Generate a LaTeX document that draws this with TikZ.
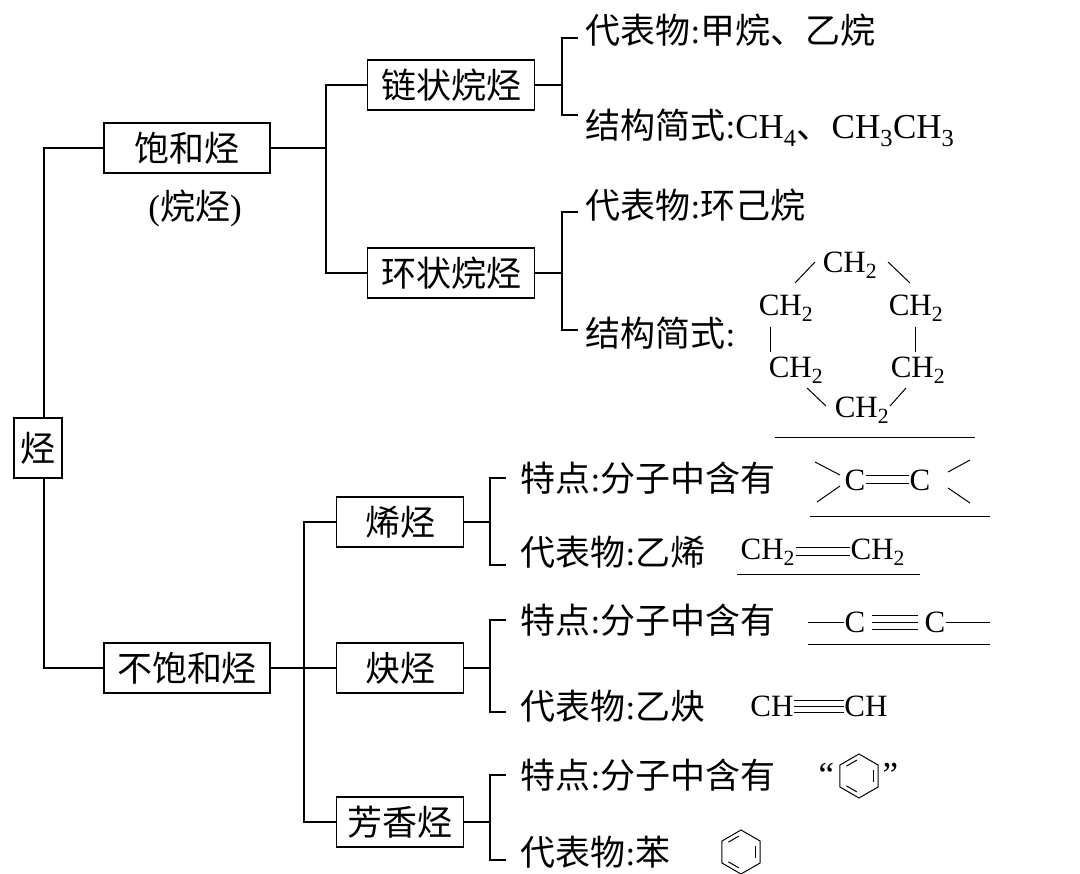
\documentclass[tikz,border=0pt]{standalone}
\usepackage{fontspec}
\setmainfont{Liberation Serif}
\newfontfamily\cjk{Noto Sans CJK SC}
\begin{document}
\begin{tikzpicture}[x=1pt,y=-1pt,line width=1.3pt,
 box/.style={draw,inner sep=0pt,minimum height=50pt,font=\fontsize{35}{37}\selectfont\cjk},
 t/.style={anchor=west,inner sep=0pt,font=\fontsize{35}{37}\selectfont},
 ch/.style={inner sep=0pt,font=\fontsize{31}{33}\selectfont}]
\useasboundingbox (0,0) rectangle (1080,874);
\newcommand\zh[1]{{\cjk #1}}
\node[box,minimum width=48pt,minimum height=60pt] (root) at (38,448) {烃};
\node[box,minimum width=166pt] (bh) at (187,148) {饱和烃};
\node[t,anchor=center] (bhn) at (195,208) {(\zh{烷烃})};
\node[box,minimum width=166pt] (bbh) at (187,668) {不饱和烃};
\draw (root.north -| 44,0) -- (44,148) -- (bh.west);
\draw (root.south -| 44,0) -- (44,668) -- (bbh.west);
\node[box,minimum width=167pt] (lz) at (451,85) {链状烷烃};
\node[box,minimum width=167pt] (hz) at (451,273) {环状烷烃};
\coordinate (j1) at (326,148);
\draw (bh.east) -- (j1);
\draw (lz.west) -- (326,85) -- (326,273) -- (hz.west);
\coordinate (b1) at (562,85);
\draw (lz.east) -- (b1);
\draw (578,38) -- (562,38) -- (562,115) -- (578,115);
\node[t] (a1) at (585,30) {\zh{代表物}:\zh{甲烷、乙烷}};
\node[t] (a2) at (585,128) {\zh{结构简式}:CH\textsubscript{4}\zh{、}CH\textsubscript{3}CH\textsubscript{3}};
\draw (hz.east) -- (562,273);
\draw (578,212) -- (562,212) -- (562,330) -- (578,330);
\node[t] (a3) at (585,205) {\zh{代表物}:\zh{环己烷}};
\node[t] (a4) at (585,333) {\zh{结构简式}:};
\node[ch] (c1) at (850,265) {CH\textsubscript{2}};
\node[ch] (c2) at (786,308) {CH\textsubscript{2}};
\node[ch] (c3) at (916,308) {CH\textsubscript{2}};
\node[ch] (c4) at (796,370) {CH\textsubscript{2}};
\node[ch] (c5) at (918,370) {CH\textsubscript{2}};
\node[ch] (c6) at (862,410) {CH\textsubscript{2}};
\draw[line width=1pt] (795,283) -- (815,262);
\draw[line width=1pt] (888,262) -- (910,283);
\draw[line width=1pt] (770,327) -- (770,352);
\draw[line width=1pt] (915,327) -- (915,352);
\draw[line width=1pt] (807,388) -- (826,406);
\draw[line width=1pt] (906,388) -- (890,406);
\draw[line width=1pt] (775,438) -- (975,438);
\node[box,minimum width=127pt] (xt) at (400,522) {烯烃};
\node[box,minimum width=127pt] (qt) at (400,668) {炔烃};
\node[box,minimum width=127pt] (fx) at (400,822) {芳香烃};
\draw (bbh.east) -- (304,668);
\draw (xt.west) -- (304,522) -- (304,822) -- (fx.west);
\draw (qt.west) -- (304,668);
\draw (xt.east) -- (490,522);
\draw (506,478) -- (490,478) -- (490,565) -- (506,565);
\node[t] (x1) at (520,478) {\zh{特点}:\zh{分子中含有}};
\node[ch] (xc1) at (855,480) {C};
\node[ch] (xc2) at (920,480) {C};
\draw[line width=1pt] ([yshift=-4pt]xc1.east) -- ([yshift=-4pt]xc2.west) ([yshift=4pt]xc1.east) -- ([yshift=4pt]xc2.west);
\draw[line width=1pt] (815,462) -- (840,475) (817,502) -- (840,486);
\draw[line width=1pt] (948,472) -- (970,460) (948,488) -- (970,503);
\draw[line width=1pt] (810,517) -- (990,517);
\node[t] (x2) at (520,552) {\zh{代表物}:\zh{乙烯}};
\node[ch,anchor=west] (e1) at (740,552) {CH\textsubscript{2}};
\node[ch,anchor=west] (e2) at (850,552) {CH\textsubscript{2}};
\draw[line width=1pt] ([yshift=-4pt]e1.east) -- ([yshift=-4pt]e2.west) ([yshift=4pt]e1.east) -- ([yshift=4pt]e2.west);
\draw[line width=1pt] (737,575) -- (920,575);
\draw (qt.east) -- (490,668);
\draw (506,620) -- (490,620) -- (490,712) -- (506,712);
\node[t] (q1) at (520,620) {\zh{特点}:\zh{分子中含有}};
\node[ch] (qc1) at (855,622) {C};
\node[ch] (qc2) at (935,622) {C};
\draw[line width=1pt] (808,622) -- (qc1.west) (qc2.east) -- (990,622);
\draw[line width=1pt] ([yshift=-7pt,xshift=6pt]qc1.east) -- ([yshift=-7pt,xshift=-6pt]qc2.west)
  ([xshift=6pt]qc1.east) -- ([xshift=-6pt]qc2.west)
  ([yshift=7pt,xshift=6pt]qc1.east) -- ([yshift=7pt,xshift=-6pt]qc2.west);
\draw[line width=1pt] (808,644) -- (990,644);
\node[t] (q2) at (520,706) {\zh{代表物}:\zh{乙炔}};
\node[ch] (y1) at (772,706) {CH};
\node[ch] (y2) at (866,706) {CH};
\draw[line width=1pt] ([yshift=-6pt]y1.east) -- ([yshift=-6pt]y2.west) (y1.east) -- (y2.west) ([yshift=6pt]y1.east) -- ([yshift=6pt]y2.west);
\draw (fx.east) -- (490,822);
\draw (506,775) -- (490,775) -- (490,860) -- (506,860);
\node[t] (f1) at (520,775) {\zh{特点}:\zh{分子中含有}};
\node[t] (lq) at (818,775) {“};
\node[t] (rq) at (882,775) {”};
\node[t] (f2) at (520,852) {\zh{代表物}:\zh{苯}};
\foreach \cx/\cy in {859/776,741/852}{
 \begin{scope}[shift={(\cx,\cy)},line width=1pt]
 \draw (30:22) -- (90:22) -- (150:22) -- (210:22) -- (270:22) -- (330:22) -- cycle;
 \draw (218:16) -- (262:16);
 \draw (338:16) -- (22:16);
 \draw (98:16) -- (142:16);
 \end{scope}
}
\end{tikzpicture}
\end{document}
